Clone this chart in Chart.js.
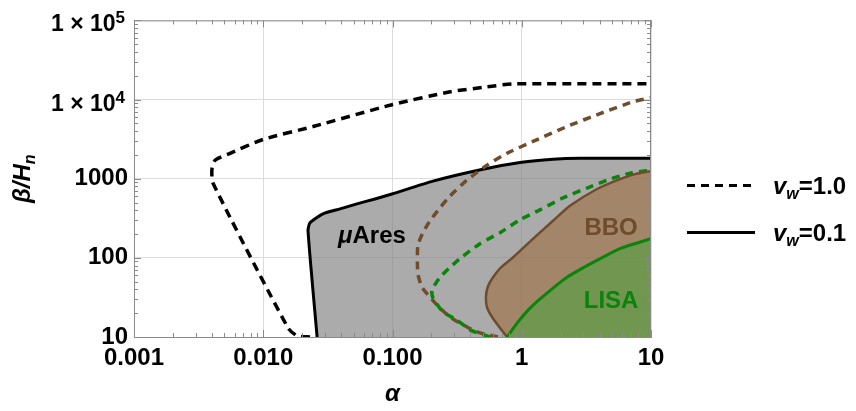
<!DOCTYPE html>
<html><head><meta charset="utf-8">
<script src="https://cdn.jsdelivr.net/npm/chart.js@4.4.1/dist/chart.umd.min.js"></script>
<style>html,body{margin:0;padding:0;background:#fff;}canvas{display:block;}</style>
</head><body>
<canvas id="c" width="856" height="411" style="width:856px;height:411px"></canvas>
<script>
// ---------------- data ----------------
const xTickValues = [0.001, 0.01, 0.1, 1, 10];
const xTickLabels = ['0.001', '0.010', '0.100', '1', '10'];
const yTickValues = [10, 100, 1000, 1e4, 1e5];
const yTickLabels = ['10', '100', '1000', '1 × 10|4', '1 × 10|5'];

// μAres, v_w = 1.0 (dashed black)
const muAres10Alpha = [0.0230, 0.01824, 0.01555, 0.00408, 0.00401, 0.00424, 0.00553, 0.00996, 0.0243, 0.099, 0.279, 0.538, 0.855, 10];
const muAres10Beta  = [10, 10.35, 13.0, 881, 1319, 1710, 2094, 3133, 4560, 8610, 12530, 14450, 15780, 15780];
// μAres, v_w = 0.1 (solid black, grey region)
const muAres01Alpha = [0.0261, 0.0222, 0.0230, 0.0290, 0.0393, 0.0531, 0.0732, 0.099, 0.2056, 0.501, 1.0, 1.746, 2.825, 10];
const muAres01Beta  = [10, 220, 278, 360, 416, 481, 555, 641, 933, 1319, 1614, 1761, 1812, 1812];
// BBO, v_w = 1.0 (dashed brown)
const bbo10Alpha = [0.655, 0.475, 0.377, 0.279, 0.233, 0.195, 0.169, 0.157, 0.157, 0.172, 0.195, 0.233, 0.279, 0.377, 0.538, 0.769, 1.222, 2.239, 4.03, 7.26, 10];
const bbo10Beta  = [10, 11.3, 13.4, 17.9, 23.2, 31.9, 42.6, 63.8, 143, 208, 294, 428, 605, 960, 1479, 2094, 2958, 4560, 6640, 9380, 10550];
// BBO, v_w = 0.1 (solid brown, brown region)
const bbo01Alpha = [0.769, 0.679, 0.589, 0.538, 0.529, 0.548, 0.600, 0.691, 0.855, 1.18, 1.746, 2.36, 3.82, 5.75, 7.52, 10];
const bbo01Beta  = [10, 13.0, 17.9, 23.9, 32.8, 43.8, 56.8, 75.9, 101, 165, 294, 454, 741, 989, 1143, 1245];
// LISA, v_w = 1.0 (dashed green)
const lisa10Alpha = [0.568, 0.501, 0.398, 0.315, 0.246, 0.206, 0.202, 0.233, 0.279, 0.333, 0.475, 0.679, 0.969, 1.383, 2.085, 3.20, 4.57, 6.89, 10];
const lisa10Beta  = [10, 10.7, 12.3, 16.4, 20.7, 31.0, 39.0, 56.8, 75.9, 98.2, 151, 208, 303, 404, 571, 762, 960, 1175, 1282];
// LISA, v_w = 0.1 (solid green, green region)
const lisa01Alpha = [0.769, 0.936, 1.159, 1.567, 2.239, 3.56, 5.75, 10];
const lisa01Beta  = [10, 15.5, 23.2, 35.8, 56.8, 87.5, 131, 175];

// region labels: [text, alpha, beta]
const regionLabelText  = ['μAres', 'BBO', 'LISA'];
const regionLabelAlpha = [0.0693, 4.91, 4.91];
const regionLabelBeta  = [202, 255, 30.1];

const legendLabels = ['1.0', '0.1'];

// ---------------- styles ----------------
const FONT = "'Liberation Sans', Arial, Helvetica, sans-serif";
const BROWN = '#6e4c2c';
const GREEN = '#0a840a';
const GRAY_FILL = 'rgba(128,128,128,0.66)';
const BROWN_FILL = 'rgba(158,108,63,0.6)';
const GREEN_FILL = 'rgba(78,161,63,0.6)';
const FRAME = '#8a8a8a';

function pts(ax, by) { return ax.map((a, i) => ({x: a, y: by[i]})); }
function lineDS(ax, by, color, dash, width, order) {
  return {data: pts(ax, by), showLine: true, borderColor: color, borderWidth: width,
    borderDash: dash, pointRadius: 0, fill: false, order: order, tension: 0.2,
    borderCapStyle: 'butt', borderJoinStyle: 'round'};
}
function fillDS(ax, by, color, order) {
  return {data: pts(ax.concat([10]), by.concat([10])), showLine: true,
    borderColor: 'transparent', borderWidth: 0, pointRadius: 0,
    backgroundColor: color, fill: 'shape', order: order, tension: 0};
}

function fnt(size, italic) { return (italic ? 'italic ' : '') + 'bold ' + size + 'px ' + FONT; }
function drawParts(ctx, parts, x, y, align) {
  let w = 0;
  parts.forEach(p => { ctx.font = fnt(p.size, p.italic); p.w = ctx.measureText(p.t).width; w += p.w; });
  let cx = align === 'center' ? x - w / 2 : (align === 'right' ? x - w : x);
  parts.forEach(p => { ctx.font = fnt(p.size, p.italic); ctx.fillText(p.t, cx, y + (p.dy || 0)); cx += p.w; });
}

const decorations = {
  id: 'decorations',
  afterDatasetsDraw(chart) {
    const {ctx, chartArea: a, scales: {x, y}} = chart;
    ctx.save();
    ctx.strokeStyle = FRAME;
    ctx.lineWidth = 1;
    ctx.beginPath();
    ctx.moveTo(a.left, a.top + 0.5); ctx.lineTo(a.right, a.top + 0.5);
    ctx.moveTo(a.right - 0.5, a.top); ctx.lineTo(a.right - 0.5, a.bottom);
    for (let d = -3; d <= 1; d++) {
      for (let m = 1; m <= 9; m++) {
        const v = m * Math.pow(10, d);
        if (v < 0.001 || v > 10) continue;
        const px = Math.round(x.getPixelForValue(v)) + 0.5;
        const len = m === 1 ? 7 : 4;
        ctx.moveTo(px, a.bottom); ctx.lineTo(px, a.bottom - len);
        ctx.moveTo(px, a.top); ctx.lineTo(px, a.top + len);
      }
    }
    for (let d = 1; d <= 5; d++) {
      for (let m = 1; m <= 9; m++) {
        const v = m * Math.pow(10, d);
        if (v < 10 || v > 1e5) continue;
        const py = Math.round(y.getPixelForValue(v)) + 0.5;
        const len = m === 1 ? 7 : 4;
        ctx.moveTo(a.left, py); ctx.lineTo(a.left + len, py);
        ctx.moveTo(a.right, py); ctx.lineTo(a.right - len, py);
      }
    }
    ctx.stroke();
    ctx.restore();
  },
  afterDraw(chart) {
    const {ctx, chartArea: a, scales: {x, y}} = chart;
    ctx.save();
    ctx.fillStyle = '#000';
    ctx.textBaseline = 'alphabetic';
    yTickLabels.forEach((lab, i) => {
      if (lab.indexOf('|') < 0) return;
      const [base, exp] = lab.split('|');
      const py = y.getPixelForValue(yTickValues[i]);
      ctx.font = fnt(17);
      const ew = ctx.measureText(exp).width;
      const right = a.left - 9;
      ctx.textAlign = 'left';
      ctx.fillText(exp, right - ew, py + 3);
      ctx.font = fnt(23);
      const bw = ctx.measureText(base).width;
      ctx.fillText(base, right - ew - bw, py + 11);
    });
    ctx.save();
    ctx.translate(22, (a.top + a.bottom) / 2);
    ctx.rotate(-Math.PI / 2);
    ctx.textAlign = 'left';
    drawParts(ctx, [{t: 'β/H', size: 24, italic: true}, {t: 'n', size: 16, italic: true, dy: 5}], 0, 8, 'center');
    ctx.restore();
    const colors = ['#000', BROWN, GREEN];
    regionLabelText.forEach((t, i) => {
      const px = x.getPixelForValue(regionLabelAlpha[i]);
      const py = y.getPixelForValue(regionLabelBeta[i]);
      ctx.fillStyle = colors[i];
      ctx.textAlign = 'left';
      if (t.startsWith('μ')) {
        drawParts(ctx, [{t: 'μ', size: 24, italic: true}, {t: t.slice(1), size: 24}], px, py + 9, 'center');
      } else {
        drawParts(ctx, [{t: t, size: 24}], px, py + 9, 'center');
      }
    });
    const lx0 = a.right + 36, lx1 = a.right + 104, tx = a.right + 122;
    const rows = [a.top + 165, a.top + 212];
    ctx.strokeStyle = '#000';
    ctx.lineWidth = 3;
    rows.forEach((ry, i) => {
      ctx.setLineDash(i === 0 ? [8, 6] : []);
      ctx.beginPath(); ctx.moveTo(lx0, ry); ctx.lineTo(lx1, ry); ctx.stroke();
      ctx.fillStyle = '#000';
      ctx.textAlign = 'left';
      drawParts(ctx, [{t: 'v', size: 24, italic: true}, {t: 'w', size: 16, italic: true, dy: 5}, {t: '=' + legendLabels[i], size: 24}], tx, ry + 9, 'left');
    });
    ctx.restore();
  }
};

const chart = new Chart(document.getElementById('c'), {
  type: 'scatter',
  data: {datasets: [
    lineDS(lisa01Alpha, lisa01Beta, GREEN, [], 3, 0),
    lineDS(bbo01Alpha, bbo01Beta, BROWN, [], 2.5, 1),
    lineDS(lisa10Alpha, lisa10Beta, GREEN, [8, 6], 3.5, 2),
    lineDS(bbo10Alpha, bbo10Beta, BROWN, [8, 6], 3.5, 3),
    lineDS(muAres10Alpha, muAres10Beta, '#000', [9, 6], 3.5, 4),
    lineDS(muAres01Alpha, muAres01Beta, '#000', [], 3, 5),
    fillDS(lisa01Alpha, lisa01Beta, GREEN_FILL, 10),
    fillDS(bbo01Alpha, bbo01Beta, BROWN_FILL, 11),
    fillDS(muAres01Alpha, muAres01Beta, GRAY_FILL, 12)
  ]},
  options: {
    responsive: false,
    animation: false,
    events: [],
    layout: {padding: {left: 0, right: 205, top: 18, bottom: 0}},
    plugins: {legend: {display: false}, tooltip: {enabled: false}},
    scales: {
      x: {
        type: 'logarithmic', min: 0.001, max: 10,
        afterBuildTicks: s => { s.ticks = xTickValues.map(v => ({value: v, major: true})); },
        afterFit: s => { s.height = 74; },
        ticks: {
          autoSkip: false, maxRotation: 0, padding: 7, color: '#000',
          font: {family: FONT, size: 24, weight: 'bold'},
          callback: (v, i) => xTickLabels[i]
        },
        grid: {color: '#dcdcdc', lineWidth: 1, drawTicks: false},
        border: {display: true, color: FRAME, width: 1},
        title: {display: true, text: 'α', color: '#000', padding: {top: 0, bottom: 2},
          font: {family: FONT, size: 24, weight: 'bold', style: 'italic'}}
      },
      y: {
        type: 'logarithmic', min: 10, max: 1e5,
        afterBuildTicks: s => { s.ticks = yTickValues.map(v => ({value: v, major: true})); },
        afterFit: s => { s.width = 134; },
        ticks: {
          autoSkip: false, padding: 6, color: '#000',
          font: {family: FONT, size: 24, weight: 'bold'},
          callback: (v, i) => (yTickLabels[i].indexOf('|') >= 0 ? '' : yTickLabels[i])
        },
        grid: {color: '#dcdcdc', lineWidth: 1, drawTicks: false},
        border: {display: true, color: FRAME, width: 1}
      }
    }
  },
  plugins: [decorations]
});
</script>
</body></html>
